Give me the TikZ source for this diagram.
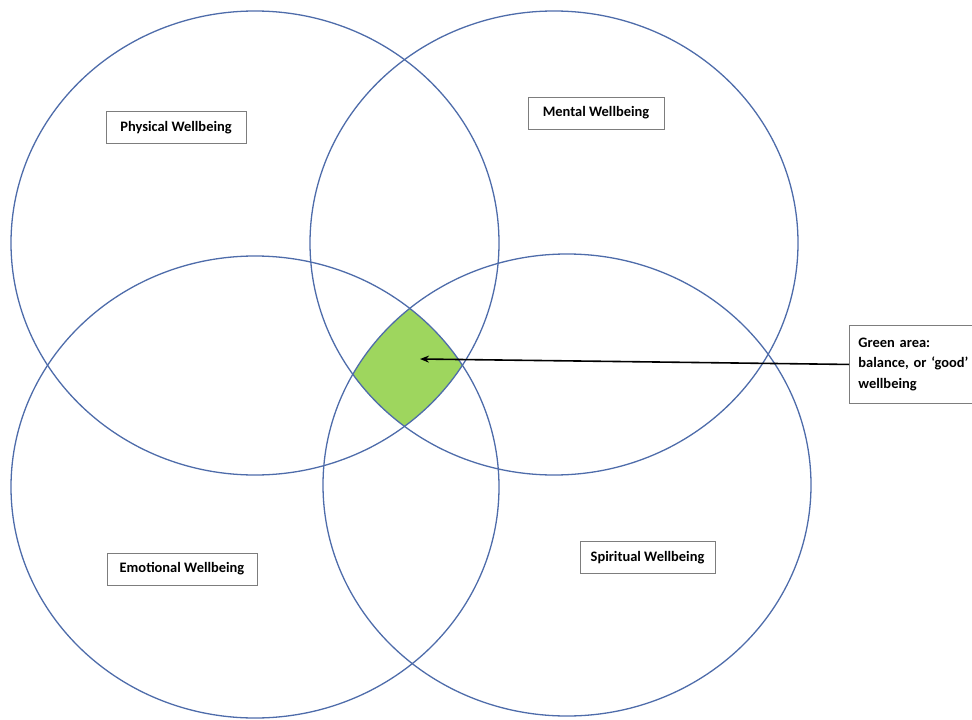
\documentclass[tikz,border=0pt]{standalone}
\usepackage{fontspec}
\setmainfont{Carlito}
\usetikzlibrary{arrows.meta}
\definecolor{ringblue}{RGB}{78,108,170}
\definecolor{balgreen}{RGB}{158,214,94}
\definecolor{boxgrey}{RGB}{125,125,125}
\begin{document}
\begin{tikzpicture}[
    x=1bp, y=-1bp,
    ring/.style={draw=ringblue, line width=1.3bp},
    label/.style={draw=boxgrey, line width=0.9bp, font=\fontsize{14.5}{17}\selectfont\bfseries,
                  minimum height=32bp, inner xsep=6bp},
    note/.style={label, align=left, anchor=north west, text width=116bp,
                 minimum height=78bp, inner sep=9bp, font=\fontsize{14.5}{21}\selectfont\bfseries},
    arr/.style={-{Stealth[length=9bp, width=7bp]}, line width=1.6bp}
]
\useasboundingbox (0,0) rectangle (972,720);

% the overlap of all four rings
\begin{scope}
  \clip (255,243) ellipse [x radius=244bp, y radius=232bp];
  \clip (554,243) ellipse [x radius=244bp, y radius=232bp];
  \clip (255,487) ellipse [x radius=244bp, y radius=231bp];
  \fill[balgreen] (567,485) ellipse [x radius=244bp, y radius=231bp];
\end{scope}

\draw[ring] (255,243) ellipse [x radius=244bp, y radius=232bp];
\draw[ring] (554,243) ellipse [x radius=244bp, y radius=232bp];
\draw[ring] (255,487) ellipse [x radius=244bp, y radius=231bp];
\draw[ring] (567,485) ellipse [x radius=244bp, y radius=231bp];

\node[label, minimum width=140bp] (phys)  at (176,127.5) {Physical Wellbeing};
\node[label, minimum width=136bp] (ment)  at (596,113)   {Mental Wellbeing};
\node[label, minimum width=150bp] (emot)  at (182,569)   {Emotional Wellbeing};
\node[label, minimum width=135bp] (spir)  at (647.5,557.5) {Spiritual Wellbeing};
\node[note] (green) at (849,325) {\raggedright Green area:\\balance, or ‘good’\\wellbeing};

\coordinate (mid) at (420,359);
\draw[arr] (green.west) -- (mid);
\end{tikzpicture}
\end{document}
